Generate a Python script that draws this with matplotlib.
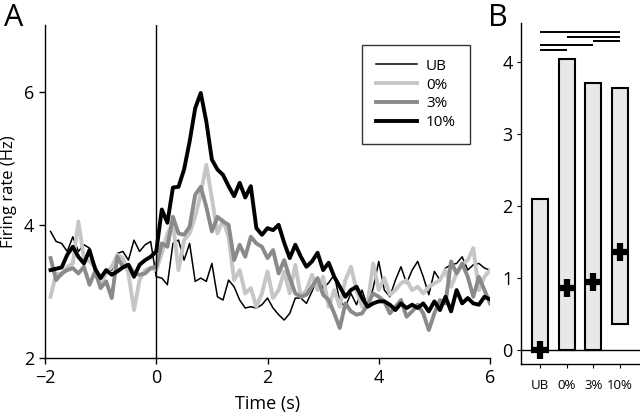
import numpy as np
import matplotlib
matplotlib.use("Agg")
import matplotlib.pyplot as plt

plt.rcParams['font.family'] = ['Open Sans', 'DejaVu Sans']

# ---- Panel A data (0.1 s bins, -1.9 .. 6.0 s) ----
time = np.round(np.arange(-19, 61) / 10.0, 2)

rate_ub = [3.90, 3.75, 3.72, 3.60, 3.82, 3.60, 3.70, 3.65, 3.32, 3.17,
           3.30, 3.32, 3.57, 3.60, 3.47, 3.77, 3.60, 3.70, 3.75, 3.22,
           3.20, 3.10, 3.72, 3.77, 3.47, 3.72, 3.15, 3.20, 3.15, 3.42,
           2.92, 2.87, 3.17, 3.07, 2.87, 2.75, 2.77, 2.75, 2.80, 2.90,
           2.75, 2.65, 2.57, 2.67, 2.90, 2.90, 2.82, 3.00, 3.20, 3.05,
           3.13, 3.25, 2.85, 2.77, 2.97, 2.80, 3.02, 2.77, 3.05, 3.45,
           3.02, 2.92, 3.17, 3.37, 3.12, 3.32, 3.45, 3.22, 2.95, 3.30,
           3.17, 3.35, 3.40, 3.42, 3.52, 3.32, 3.40, 3.42, 3.35, 3.32]

rate_0 = [2.92, 3.27, 3.25, 3.37, 3.42, 4.05, 3.50, 3.45, 3.37, 3.12,
          3.27, 3.37, 3.55, 3.50, 3.27, 2.72, 3.17, 3.32, 3.35, 3.32,
          3.57, 3.87, 4.03, 3.32, 3.77, 3.87, 4.12, 4.47, 4.90, 4.40,
          3.87, 4.07, 3.82, 3.17, 3.32, 2.97, 3.05, 2.77, 2.97, 3.30,
          2.90, 3.02, 3.30, 2.97, 3.40, 2.92, 3.02, 3.25, 3.02, 3.22,
          2.77, 3.02, 2.77, 3.17, 3.37, 3.02, 2.77, 2.82, 3.42, 3.02,
          3.20, 2.95, 3.02, 3.12, 3.17, 3.02, 3.07, 2.97, 3.07, 3.12,
          3.17, 3.32, 3.07, 3.27, 3.40, 3.47, 3.65, 3.02, 3.22, 3.32]

rate_3 = [3.50, 3.17, 3.27, 3.32, 3.35, 3.27, 3.37, 3.10, 3.30, 3.05,
          3.15, 2.90, 3.52, 3.37, 3.40, 3.27, 3.25, 3.27, 3.35, 3.37,
          3.72, 3.67, 4.12, 3.87, 3.85, 3.97, 4.45, 4.57, 4.27, 3.90,
          4.12, 4.05, 4.00, 3.47, 3.70, 3.52, 3.82, 3.72, 3.67, 3.50,
          3.62, 3.27, 3.47, 3.20, 2.97, 2.92, 2.95, 3.07, 3.20, 2.95,
          2.87, 2.67, 2.45, 2.82, 2.70, 2.65, 2.67, 2.80, 2.97, 2.92,
          2.85, 2.67, 2.77, 2.87, 2.62, 2.70, 2.80, 2.67, 2.42, 2.67,
          2.87, 2.82, 3.45, 3.27, 3.42, 3.22, 2.92, 3.22, 3.02, 2.82]

rate_10 = [3.32, 3.34, 3.36, 3.55, 3.67, 3.52, 3.42, 3.62, 3.34, 3.20,
           3.32, 3.25, 3.30, 3.36, 3.40, 3.22, 3.40, 3.47, 3.52, 3.60,
           4.23, 4.03, 4.56, 4.57, 4.83, 5.25, 5.75, 5.98, 5.55, 4.98,
           4.83, 4.75, 4.58, 4.43, 4.63, 4.41, 4.58, 3.95, 3.85, 3.95,
           3.92, 4.00, 3.73, 3.50, 3.70, 3.52, 3.37, 3.45, 3.58, 3.32,
           3.43, 3.22, 3.07, 2.92, 3.02, 3.07, 2.90, 2.77, 2.82, 2.85,
           2.85, 2.80, 2.72, 2.82, 2.75, 2.80, 2.75, 2.82, 2.70, 2.85,
           2.72, 2.92, 2.70, 3.02, 2.82, 2.90, 2.82, 2.80, 2.92, 2.88]

series_labels = ["UB", "0%", "3%", "10%"]

# ---- Panel B data ----
b_categories = ["UB", "0%", "3%", "10%"]
b_bottom = [0.0, 0.0, 0.0, 0.36]
b_top = [2.10, 4.05, 3.71, 3.65]
b_marker = [0.0, 0.86, 0.94, 1.36]
# significance bars: (from index, to index, height)
sig_from = [0, 1, 2, 0, 0]
sig_to = [3, 3, 3, 2, 1]
sig_y = [4.42, 4.36, 4.30, 4.24, 4.17]

fig = plt.figure(figsize=(6.4, 4.17), dpi=100)

# ---------- Panel A ----------
axA = fig.add_axes([45/640, 1-358/417, 445/640, 333/417])
axA.plot(time, rate_ub, color='black', lw=1.1, label=series_labels[0])
axA.plot(time, rate_0, color='#c6c6c6', lw=2.8, label=series_labels[1])
axA.plot(time, rate_3, color='#8a8a8a', lw=2.8, label=series_labels[2])
axA.plot(time, rate_10, color='black', lw=2.8, label=series_labels[3])
axA.axvline(0, color='black', lw=1.0)
axA.set_xlim(-2, 6)
axA.set_ylim(2, 7)
axA.set_xticks([-2, 0, 2, 4, 6])
axA.set_yticks([2, 4, 6])
for s in ['top', 'right']:
    axA.spines[s].set_visible(False)
for s in ['left', 'bottom']:
    axA.spines[s].set_linewidth(1.0)
axA.tick_params(direction='out', length=4, width=1, labelsize=13, pad=4)
axA.set_xlabel("Time (s)", fontsize=13, labelpad=6)
axA.set_ylabel("Firing rate (Hz)", fontsize=12)
axA.yaxis.set_label_coords(-0.062, 0.5)
leg = axA.legend(loc='upper left', bbox_to_anchor=(0.712, 0.94), fontsize=11,
                 frameon=True, fancybox=False, edgecolor='black',
                 handlelength=2.7, borderpad=0.9, labelspacing=0.25,
                 handletextpad=0.6, borderaxespad=0)
leg.get_frame().set_linewidth(1.0)
fig.text(4/640, 1-3/417, "A", fontsize=22, va='top', ha='left')

# ---------- Panel B ----------
axB = fig.add_axes([521/640, 1-364/417, 119/640, 341/417])
xpos = np.arange(len(b_categories))
heights = np.array(b_top) - np.array(b_bottom)
axB.bar(xpos, heights, bottom=b_bottom, width=0.6, color='#e8e8e8',
        edgecolor='black', linewidth=1.5, zorder=2)
axB.plot(xpos, b_marker, linestyle='none', marker='+', markersize=13,
         markeredgewidth=4.5, color='black', zorder=4)
axB.axhline(0, color='black', lw=1.0, zorder=1)
for f, t, y in zip(sig_from, sig_to, sig_y):
    axB.plot([xpos[f], xpos[t]], [y, y], color='black', lw=1.4,
             solid_capstyle='butt')
axB.set_xlim(-0.71, 3.75)
axB.set_ylim(-0.2, 4.55)
axB.set_xticks(xpos)
axB.set_xticklabels(b_categories, fontsize=9.5)
axB.set_yticks([0, 1, 2, 3, 4])
axB.tick_params(axis='y', direction='out', length=3, width=0.8, labelsize=13, pad=3)
axB.tick_params(axis='x', direction='out', length=3, width=0.8, pad=8)
for s in ['top', 'right']:
    axB.spines[s].set_visible(False)
for s in ['left', 'bottom']:
    axB.spines[s].set_linewidth(1.0)
fig.text(488/640, 1-3/417, "B", fontsize=22, va='top', ha='left')

fig.savefig("out.png", dpi=100)
